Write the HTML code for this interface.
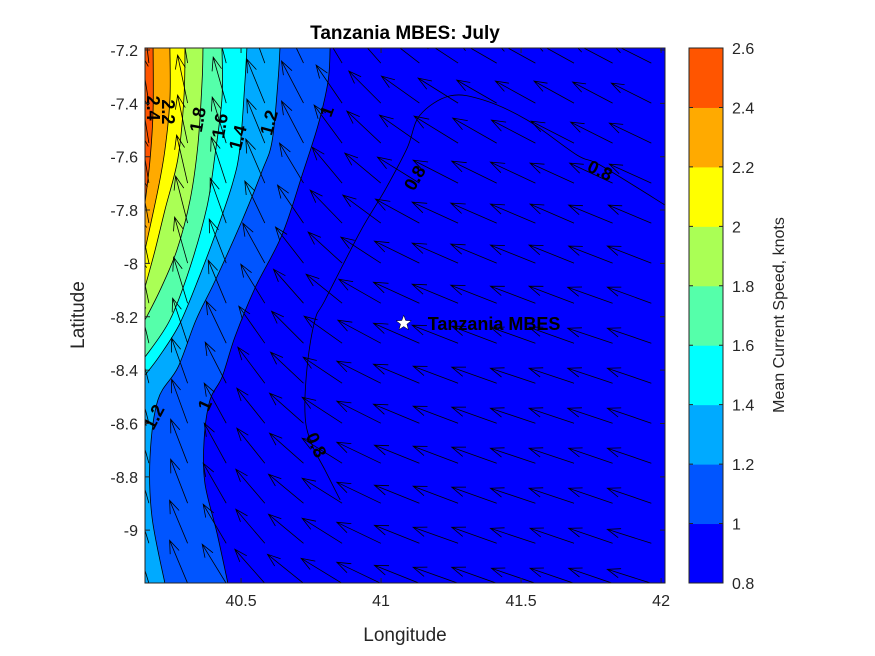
<!DOCTYPE html>
<html><head><meta charset="utf-8"><style>
html,body{margin:0;padding:0;background:#fff;}
svg{display:block;font-family:"Liberation Sans","DejaVu Sans",sans-serif;}
</style></head><body>
<svg id="chart" width="875" height="656" viewBox="0 0 875 656" xmlns="http://www.w3.org/2000/svg">
<defs><clipPath id="plotclip"><rect x="145" y="48" width="520" height="535"/></clipPath></defs>
<rect x="0" y="0" width="875" height="656" fill="#fff"/>
<text x="405" y="39" text-anchor="middle" font-size="19" font-weight="bold" fill="#000">Tanzania MBES: July</text>
<g id="plot" clip-path="url(#plotclip)"></g>
<g id="overlay"></g>
<g id="axes"></g>
<text x="405" y="641" text-anchor="middle" font-size="19" fill="#262626">Longitude</text>
<text x="84" y="315" text-anchor="middle" font-size="19" fill="#262626" transform="rotate(-90 84 315)">Latitude</text>
<g id="cbar"></g>
<text x="784" y="315" text-anchor="middle" font-size="16" fill="#262626" transform="rotate(-90 784 315)">Mean Current Speed, knots</text>
</svg>
<script>
const levels = [0.8,1.0,1.2,1.4,1.6,1.8,2.0,2.2,2.4,2.6];
const levelColors = ["#0000ff","#0055ff","#00aaff","#00ffff","#55ffaa","#aaff55","#ffff00","#ffaa00","#ff5500"];
const xTicks = [40.5,41,41.5,42];
const xTickLabels = ["40.5","41","41.5","42"];
const yTicks = [-7.2,-7.4,-7.6,-7.8,-8,-8.2,-8.4,-8.6,-8.8,-9];
const yTickLabels = ["-7.2","-7.4","-7.6","-7.8","-8","-8.2","-8.4","-8.6","-8.8","-9"];
const cbTickLabels = ["0.8","1","1.2","1.4","1.6","1.8","2","2.2","2.4","2.6"];

// contour lines (lon, lat)
const c10Lon = [40.818,40.811,40.775,40.718,40.646,40.550,40.478,40.432,40.389,40.368,40.371,40.414,40.453];
const c10Lat = [-7.193,-7.316,-7.481,-7.669,-7.894,-8.092,-8.276,-8.426,-8.512,-8.662,-8.824,-9.011,-9.199];
const c12Lon = [40.639,40.632,40.611,40.575,40.503,40.407,40.339,40.275,40.203,40.175,40.182,40.228];
const c12Lat = [-7.193,-7.316,-7.541,-7.654,-7.841,-8.066,-8.212,-8.389,-8.512,-8.726,-8.951,-9.199];
const c14Lon = [40.521,40.514,40.496,40.468,40.407,40.353,40.282,40.211,40.157];
const c14Lat = [-7.193,-7.316,-7.568,-7.706,-7.894,-8.044,-8.224,-8.344,-8.419];
const c16Lon = [40.432,40.432,40.407,40.378,40.318,40.246,40.157];
const c16Lat = [-7.193,-7.380,-7.594,-7.789,-8.014,-8.212,-8.351];
const c18Lon = [40.364,40.361,40.346,40.318,40.271,40.211,40.157];
const c18Lat = [-7.193,-7.316,-7.556,-7.762,-7.950,-8.100,-8.212];
const c20Lon = [40.300,40.296,40.275,40.228,40.193,40.157];
const c20Lat = [-7.193,-7.380,-7.605,-7.800,-7.950,-8.089];
const c22Lon = [40.246,40.246,40.228,40.203,40.157];
const c22Lat = [-7.193,-7.387,-7.575,-7.725,-7.950];
const c24Lon = [40.186,40.186,40.175,40.157];
const c24Lat = [-7.193,-7.425,-7.612,-7.774];
const c08Lon = [42.014,41.782,41.700,41.521,41.364,41.246,41.139,41.093,41.014,40.925,40.800,40.764,40.736,40.729,40.754,40.800,40.854];
const c08Lat = [-7.781,-7.631,-7.594,-7.462,-7.387,-7.372,-7.444,-7.568,-7.725,-7.882,-8.137,-8.212,-8.389,-8.576,-8.681,-8.775,-8.887];

// quiver grid
const gridLon = [40.171,40.309,40.447,40.585,40.723,40.861,40.999,41.137,41.275,41.413,41.551,41.689,41.827,41.965];
const gridLat = [-7.249,-7.399,-7.549,-7.699,-7.849,-7.999,-8.149,-8.299,-8.449,-8.599,-8.749,-8.899,-9.049,-9.199];
const U = [
[-6,-8,-12,-16,-20,-24,-30,-36,-38,-40,-40,-40,-40,-40],
[-8,-10,-13,-18,-22,-26,-32,-38,-40,-40,-40,-40,-40,-40],
[-8,-10,-14,-18,-22,-28,-34,-40,-44,-44,-44,-43,-42,-42],
[-8,-11,-15,-19,-24,-30,-36,-42,-45,-45,-45,-44,-43,-42],
[-9,-12,-16,-20,-26,-32,-38,-44,-46,-46,-45,-44,-44,-43],
[-10,-13,-17,-22,-28,-34,-40,-45,-46,-46,-45,-45,-44,-44],
[-10,-14,-18,-24,-30,-36,-42,-46,-46,-46,-45,-45,-45,-44],
[-11,-15,-20,-26,-32,-38,-43,-46,-46,-45,-45,-45,-45,-44],
[-12,-16,-21,-27,-33,-39,-44,-46,-45,-45,-45,-45,-45,-44],
[-12,-16,-22,-28,-34,-40,-44,-46,-45,-45,-45,-45,-45,-44],
[-13,-17,-22,-28,-34,-40,-44,-45,-45,-45,-45,-45,-44,-44],
[-13,-17,-23,-29,-35,-40,-44,-45,-45,-45,-45,-45,-44,-44],
[-14,-18,-23,-29,-35,-40,-44,-45,-45,-45,-45,-44,-44,-44],
[-14,-18,-24,-30,-36,-41,-44,-45,-45,-45,-44,-44,-44,-44]];
const V = [
[50,48,46,44,42,40,34,28,25,23,22,22,21,20],
[50,48,46,44,42,38,32,27,25,23,22,22,21,20],
[50,48,46,44,42,38,32,28,27,25,23,22,21,20],
[50,48,46,44,40,36,30,26,23,22,21,20,20,19],
[49,47,45,42,38,33,28,24,21,20,19,19,18,18],
[48,46,44,40,36,31,26,22,20,19,18,18,17,17],
[48,46,43,39,34,29,24,21,19,18,17,17,16,16],
[47,45,42,37,32,27,23,20,18,17,16,16,15,15],
[47,45,41,36,31,26,22,19,17,16,15,15,15,15],
[46,44,40,35,30,26,22,19,17,16,15,15,15,15],
[46,44,40,35,30,25,21,18,17,16,15,15,15,15],
[46,44,40,34,29,25,21,18,17,16,15,15,15,15],
[46,43,39,34,29,25,21,18,16,16,15,15,15,14],
[46,43,39,34,29,25,21,18,16,16,15,15,15,14]];

const siteLon = [41.081];
const siteLat = [-8.224];
const siteNames = ["Tanzania MBES"];

const NS = "http://www.w3.org/2000/svg";
const X0=145, X1=665, Y0=48, Y1=583;
const lonMin=40.157, lonMax=42.014, latMax=-7.1925, latMin=-9.198;
function sx(lon){return X0+(lon-lonMin)/(lonMax-lonMin)*(X1-X0);}
function sy(lat){return Y0+(latMax-lat)/(latMax-latMin)*(Y1-Y0);}
function mk(tag,attrs,parent){const e=document.createElementNS(NS,tag);for(const k in attrs)e.setAttribute(k,attrs[k]);parent.appendChild(e);return e;}
function xy(lons,lats){return lons.map((l,i)=>[sx(l),sy(lats[i])]);}
function smooth(p){
  let d="M"+p[0][0].toFixed(1)+","+p[0][1].toFixed(1);
  for(let i=0;i<p.length-1;i++){
    const p0=p[i-1]||p[i], p1=p[i], p2=p[i+1], p3=p[i+2]||p2;
    const c1x=p1[0]+(p2[0]-p0[0])/6, c1y=p1[1]+(p2[1]-p0[1])/6;
    const c2x=p2[0]-(p3[0]-p1[0])/6, c2y=p2[1]-(p3[1]-p1[1])/6;
    d+=`C${c1x.toFixed(1)},${c1y.toFixed(1)} ${c2x.toFixed(1)},${c2y.toFixed(1)} ${p2[0].toFixed(1)},${p2[1].toFixed(1)}`;
  }
  return d;
}

const plot=document.getElementById("plot");
let bg=mk("rect",{x:X0,y:Y0,width:X1-X0,height:Y1-Y0,fill:levelColors[0]},plot);



const contours=[[c10Lon,c10Lat,1],[c12Lon,c12Lat,2],[c14Lon,c14Lat,3],[c16Lon,c16Lat,4],[c18Lon,c18Lat,5],[c20Lon,c20Lat,6],[c22Lon,c22Lat,7],[c24Lon,c24Lat,8]];
contours.forEach(c=>{
  const p=xy(c[0],c[1]);
  const last=p[p.length-1];
  const d=smooth(p)+`L${X0-2},${last[1].toFixed(1)}L${X0-2},${Y0-2}L${p[0][0].toFixed(1)},${Y0-2}Z`;
  const band=mk("path",{d:d,fill:levelColors[c[2]]},plot);
  
  
});
contours.forEach(c=>{
  const ln=mk("path",{d:smooth(xy(c[0],c[1])),fill:"none",stroke:"#000","stroke-width":0.8},plot);
  
  
});
const l08=mk("path",{d:smooth(xy(c08Lon,c08Lat)),fill:"none",stroke:"#000","stroke-width":0.8},plot);



// quiver
const qg=mk("g",{stroke:"#000","stroke-width":0.8,fill:"none"},plot);


for(let j=0;j<gridLat.length;j++){
  for(let i=0;i<gridLon.length;i++){
    const x=sx(gridLon[i]), y=sy(gridLat[j]);
    const dx=U[j][i], dy=-V[j][i];
    const hx=x+dx, hy=y+dy;
    const len=Math.hypot(dx,dy), ang=Math.atan2(dy,dx);
    const hl=len*0.3, a=0.35;
    const b1x=hx-hl*Math.cos(ang-a), b1y=hy-hl*Math.sin(ang-a);
    const b2x=hx-hl*Math.cos(ang+a), b2y=hy-hl*Math.sin(ang+a);
    const ar=mk("path",{d:`M${x.toFixed(1)},${y.toFixed(1)}L${hx.toFixed(1)},${hy.toFixed(1)}M${b1x.toFixed(1)},${b1y.toFixed(1)}L${hx.toFixed(1)},${hy.toFixed(1)}L${b2x.toFixed(1)},${b2y.toFixed(1)}`},qg);
    
    
  }
}

// contour labels
const labelText=["2.4","2.2","1.8","1.6","1.4","1.2","1","0.8","0.8","1.2","1","0.8"];
const labelLon=[40.186,40.239,40.346,40.425,40.489,40.600,40.807,41.121,41.782,40.189,40.371,40.768];
const labelLat=[-7.418,-7.432,-7.461,-7.484,-7.529,-7.472,-7.430,-7.680,-7.652,-8.576,-8.531,-8.681];
const labelRot=[90,90,-80,-80,-75,-75,-70,-60,25,-62,-65,65];
const ov=document.getElementById("overlay");
labelText.forEach((t,k)=>{
  const x=sx(labelLon[k]), y=sy(labelLat[k]);
  const tx=mk("text",{x:x,y:y+6,"text-anchor":"middle","font-size":18,"font-weight":"bold",fill:"#000",transform:`rotate(${labelRot[k]} ${x} ${y})`},ov);
  tx.textContent=t;
  
  
});

// site marker
siteLon.forEach((lo,k)=>{
  const x=sx(lo), y=sy(siteLat[k]);
  let d="";
  for(let m=0;m<10;m++){const r=m%2?3.3:8;const an=-Math.PI/2+m*Math.PI/5;d+=(m?"L":"M")+(x+r*Math.cos(an)).toFixed(1)+","+(y+r*Math.sin(an)).toFixed(1);}
  const st=mk("path",{d:d+"Z",fill:"#fff",stroke:"#000","stroke-width":0.5},ov);
  
  
  const tl=mk("text",{x:x+24,y:y+7,"font-size":18,"font-weight":"bold",fill:"#000"},ov);
  tl.textContent=siteNames[k];
  
  
});

// axes
const ax=document.getElementById("axes");
const box=mk("rect",{x:X0,y:Y0,width:X1-X0,height:Y1-Y0,fill:"none",stroke:"#262626","stroke-width":1},ax);


xTicks.forEach((v,k)=>{
  const x=sx(v);
  const t=mk("path",{d:`M${x},${Y1}v-5M${x},${Y0}v5`,stroke:"#262626","stroke-width":1},ax);
  
  
  const tx=mk("text",{x:x,y:Y1+23,"text-anchor":"middle","font-size":16,fill:"#262626"},ax);
  tx.textContent=xTickLabels[k];
  
  
});
yTicks.forEach((v,k)=>{
  const y=sy(v);
  const t=mk("path",{d:`M${X0},${y}h5M${X1},${y}h-5`,stroke:"#262626","stroke-width":1},ax);
  
  
  const tx=mk("text",{x:X0-7,y:y+6,"text-anchor":"end","font-size":16,fill:"#262626"},ax);
  tx.textContent=yTickLabels[k];
  
  
});

// colorbar
const cb=document.getElementById("cbar");
const CX=689, CW=34;
function cy(v){return Y1-(v-levels[0])/(levels[levels.length-1]-levels[0])*(Y1-Y0);}
levelColors.forEach((c,k)=>{
  const r=mk("rect",{x:CX,y:cy(levels[k+1]),width:CW,height:cy(levels[k])-cy(levels[k+1])+0.5,fill:c},cb);
  
  
});
const cbb=mk("rect",{x:CX,y:Y0,width:CW,height:Y1-Y0,fill:"none",stroke:"#262626","stroke-width":1},cb);


levels.forEach((v,k)=>{
  const y=cy(v);
  const t=mk("path",{d:`M${CX+CW},${y}h-4M${CX},${y}h4`,stroke:"#262626","stroke-width":1},cb);
  
  
  const tx=mk("text",{x:CX+CW+9,y:y+6,"font-size":16,fill:"#262626"},cb);
  tx.textContent=cbTickLabels[k];
  
  
});
</script>
</body></html>
